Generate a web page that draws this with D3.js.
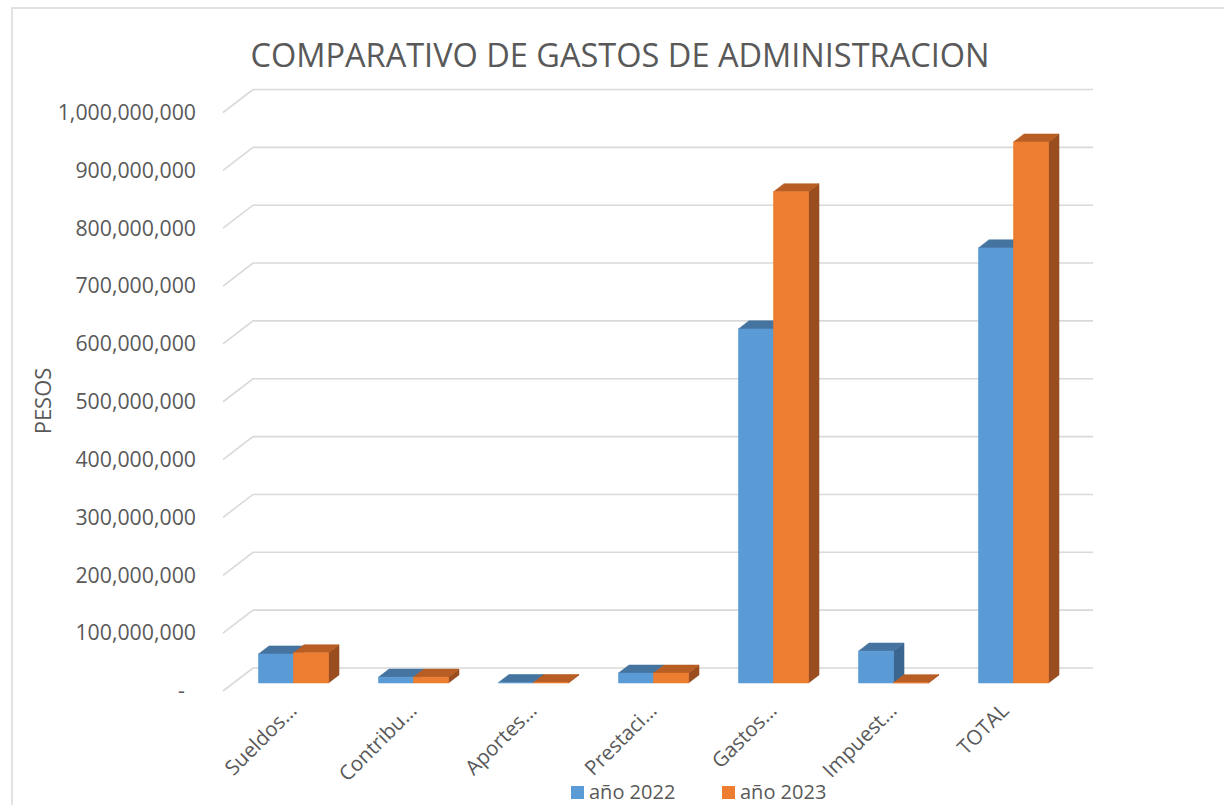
<!DOCTYPE html>
<html>
<head>
<meta charset="utf-8">
<script src="https://cdn.jsdelivr.net/npm/d3@7/dist/d3.min.js"></script>
<style>
    body { margin: 0; background: #fff; }
    svg text { font-family: "Open Sans", "Noto Sans", sans-serif; fill: #595959; }
</style>
</head>
<body>
<script>

    // data
    var categories = ["Sueldos…", "Contribu…", "Aportes…", "Prestaci…", "Gastos…", "Impuest…", "TOTAL"];
    var series = ["año 2022", "año 2023"];
    var values2022 = [50000000, 10000000, 700000, 17000000, 612000000, 55000000, 752000000];
    var values2023 = [52000000, 10000000, 700000, 17000000, 849000000, 400000, 935000000];
    var yTicks = [0, 100000000, 200000000, 300000000, 400000000, 500000000,
                  600000000, 700000000, 800000000, 900000000, 1000000000];

    const W = 1224, H = 805;
    const floor = {left: 223, right: 1063, front: 691, top: 112.5};
    const depth = {dx: 30, dy: 23};       // full depth of the 3d box
    const z0 = 0.35, z1 = 0.70;           // bar front / back inside the box

    const colors = {
        "año 2022": {front: "#5B9BD5", top: "#44749F", side: "#3A6690"},
        "año 2023": {front: "#ED7D31", top: "#B85E24", side: "#9A4D1F"}
    };

    var rows = categories.map(function(c, i) {
        return [
            {cat: c, key: series[0], value: values2022[i]},
            {cat: c, key: series[1], value: values2023[i]}
        ];
    });

    var svg = d3.select("body")
                .append("svg")
                .attr("width", W)
                .attr("height", H);

    // chart border
    svg.append("rect")
        .attr("x", 12)
        .attr("y", 8)
        .attr("width", W + 20)
        .attr("height", H + 20)
        .attr("fill", "none")
        .attr("stroke", "#D9D9D9")
        .attr("stroke-width", 1.5);

    var x = d3.scaleBand()
                .domain(categories)
                .range([floor.left, floor.right]);

    var xSub = d3.scaleBand()
                .domain(series)
                .range([-35, 35]);

    var y = d3.scaleLinear()
                .domain([0, 1000000000])
                .range([floor.front, floor.top]);

    // back wall gridlines with their slanted side wall part
    svg.append("g")
        .selectAll("path")
        .data(yTicks)
        .enter()
        .append("path")
        .attr("d", function(d) {
            var yy = y(d);
            return "M" + floor.left + "," + yy +
                   "L" + (floor.left + depth.dx) + "," + (yy - depth.dy) +
                   "L" + (floor.right + depth.dx) + "," + (yy - depth.dy);
        })
        .attr("fill", "none")
        .attr("stroke", "#D9D9D9")
        .attr("stroke-width", 1.6);

    // y axis labels
    var yAxis = d3.axisLeft(y)
                    .tickValues(yTicks)
                    .tickSize(0)
                    .tickPadding(floor.left - 196)
                    .tickFormat(function(d) {
                        return d === 0 ? "-\u00A0\u00A0" : d3.format(",")(d);
                    });

    var yG = svg.append("g")
                .attr("transform", "translate(" + floor.left + ",0)")
                .call(yAxis);
    yG.select(".domain").remove();
    yG.selectAll("text")
        .attr("font-family", null)
        .attr("font-size", 21.3)
        .attr("fill", "#595959");

    // 3d bars: front, top and right side faces
    function barFaces(d) {
        var xl = x(d.cat) + x.bandwidth() / 2 + xSub(d.key);
        var xr = xl + xSub.bandwidth();
        var fx = depth.dx * z0, fy = depth.dy * z0;
        var bx = depth.dx * z1, by = depth.dy * z1;
        var y0 = y(0), yv = y(d.value);
        return {
            front: [[xl + fx, yv - fy], [xr + fx, yv - fy], [xr + fx, y0 - fy], [xl + fx, y0 - fy]],
            top: [[xl + fx, yv - fy], [xl + bx, yv - by], [xr + bx, yv - by], [xr + fx, yv - fy]],
            side: [[xr + fx, yv - fy], [xr + bx, yv - by], [xr + bx, y0 - by], [xr + fx, y0 - fy]]
        };
    }

    var line = d3.line();

    var bars = svg.append("g")
                    .selectAll("g")
                    .data(d3.merge(rows))
                    .enter()
                    .append("g")
                    .attr("class", "bar3d");

    ["side", "top", "front"].forEach(function(face) {
        bars.append("path")
            .attr("d", function(d) { return line(barFaces(d)[face]) + "Z"; })
            .attr("fill", function(d) { return colors[d.key][face]; })
            .attr("stroke", function(d) { return colors[d.key][face]; })
            .attr("stroke-width", 0.6)
            .attr("stroke-linejoin", "round");
    });

    // category labels, rotated
    svg.append("g")
        .selectAll("text")
        .data(categories)
        .enter()
        .append("text")
        .attr("transform", function(d) {
            var cx = x(d) + x.bandwidth() / 2 + (d === "TOTAL" ? 7 : 15);
            return "translate(" + cx + ",712) rotate(-45)";
        })
        .attr("text-anchor", "end")
        .attr("font-size", 20.5)
        .text(function(d) { return d; });

    // title
    svg.append("text")
        .attr("x", 620)
        .attr("y", 67)
        .attr("text-anchor", "middle")
        .attr("font-size", 32.5)
        .text("COMPARATIVO DE GASTOS DE ADMINISTRACION");

    // y axis title
    svg.append("text")
        .attr("transform", "translate(51,401) rotate(-90)")
        .attr("text-anchor", "middle")
        .attr("font-size", 22)
        .text("PESOS");

    // legend
    var legendX = [571, 722];
    var legend = svg.append("g")
                    .selectAll("g")
                    .data(series)
                    .enter()
                    .append("g")
                    .attr("transform", function(d, i) { return "translate(" + legendX[i] + ",786)"; });

    legend.append("rect")
        .attr("width", 13)
        .attr("height", 13)
        .attr("fill", function(d) { return colors[d].front; });

    legend.append("text")
        .attr("x", 18)
        .attr("y", 13)
        .attr("font-size", 20)
        .text(function(d) { return d; });

</script>
</body>
</html>
